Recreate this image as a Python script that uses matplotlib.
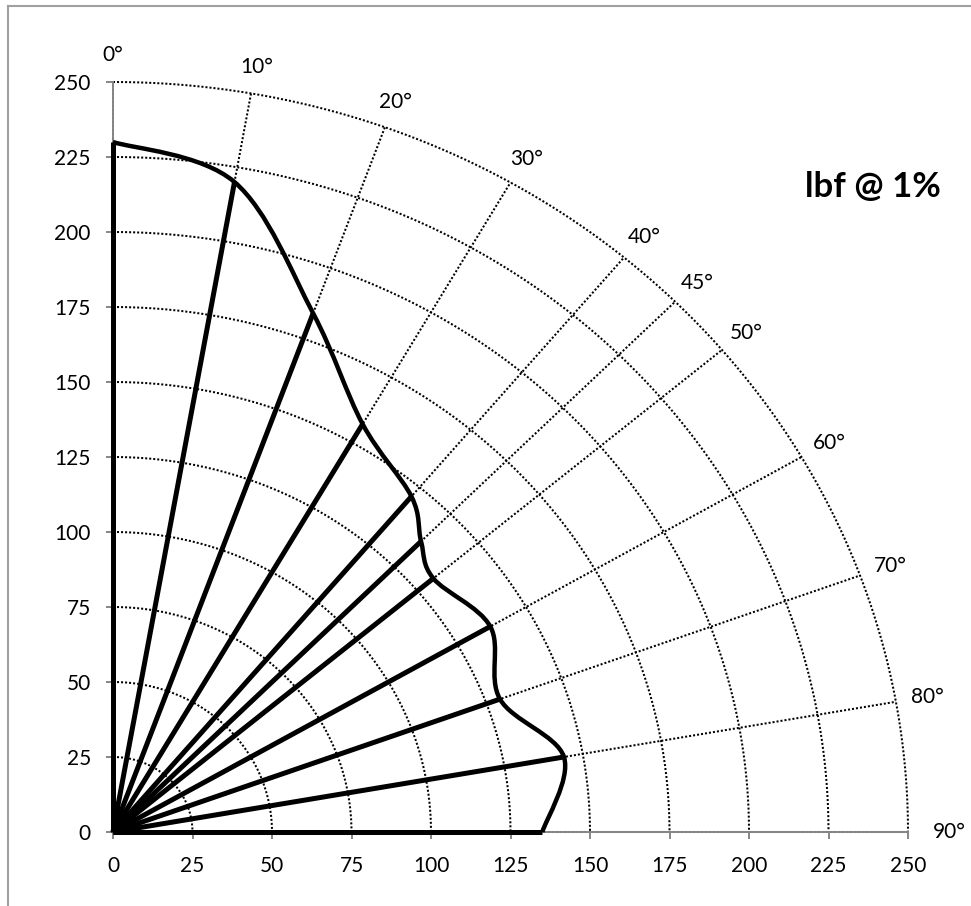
import numpy as np
import matplotlib
matplotlib.use('Agg')
import matplotlib.pyplot as plt
from matplotlib.path import Path
from matplotlib.patches import PathPatch
from matplotlib.lines import Line2D

# pull force (lbf) at 1% vs pull angle measured from vertical
angles = [0, 10, 20, 30, 40, 45, 50, 60, 70, 80, 90]
force = [230, 220, 184, 157, 146, 137, 131.5, 137, 129.5, 144, 135]

grid_angles = [0, 10, 20, 30, 40, 45, 50, 60, 70, 80, 90]
grid_radii = [25, 50, 75, 100, 125, 150, 175, 200, 225, 250]
ticks = [0, 25, 50, 75, 100, 125, 150, 175, 200, 225, 250]
title = 'lbf @ 1%'

plt.rcParams['font.family'] = ['Lato', 'DejaVu Sans']


def smooth_path(x, y):
    # excel style smoothed line: catmull-rom turned into cubic beziers
    pts = np.column_stack([x, y])
    padded = np.vstack([pts[0], pts, pts[-1]])
    verts = [pts[0]]
    codes = [Path.MOVETO]
    for i in range(len(pts) - 1):
        p0, p1, p2, p3 = padded[i], padded[i + 1], padded[i + 2], padded[i + 3]
        verts += [p1 + (p2 - p0) / 6, p2 - (p3 - p1) / 6, p2]
        codes += [Path.CURVE4] * 3
    return Path(verts, codes)


fig = plt.figure(figsize=(9.71, 9.06), dpi=100)
ax = fig.add_axes([113 / 971, 74 / 906, 795 / 971, 750 / 906])
ax.set_xlim(0, 250)
ax.set_ylim(0, 250)

grey = '#868686'
for s in ['top', 'right']:
    ax.spines[s].set_visible(False)
for s in ['left', 'bottom']:
    ax.spines[s].set_color(grey)
    ax.spines[s].set_linewidth(1.4)
ax.set_xticks(ticks)
ax.set_yticks(ticks)
ax.tick_params(axis='both', direction='out', length=5, width=1.4, color=grey,
               labelsize=15, labelcolor='black')
ax.tick_params(axis='y', pad=11)
ax.tick_params(axis='x', pad=12)

# polar grid
th = np.radians(np.linspace(0, 90, 200))
dots = (0, (1, 1))
for r in grid_radii:
    ax.plot(r * np.sin(th), r * np.cos(th), color='black', lw=1.45,
            ls=dots, clip_on=False, zorder=1)
for a in grid_angles:
    t = np.radians(a)
    ax.plot([0, 250 * np.sin(t)], [0, 250 * np.cos(t)], color='black', lw=1.45,
            ls=dots, clip_on=False, zorder=1)
    ax.text(260 * np.sin(t) + (3 if a == 90 else 0), 259 * np.cos(t), '%d°' % a,
            fontsize=15, ha='center', va='center')

t = np.radians(angles)
px = np.array(force) * np.sin(t)
py = np.array(force) * np.cos(t)

# spokes
for xi, yi in zip(px, py):
    ax.plot([0, xi], [0, yi], color='black', lw=3.6, solid_capstyle='butt',
            clip_on=False, zorder=3)

ax.add_patch(PathPatch(smooth_path(px, py), fill=False, edgecolor='black',
                       lw=3.2, clip_on=False, zorder=4))

ax.text(239, 215, title, fontsize=25, fontweight='bold', ha='center', va='center')

# outer frame (only left and top are visible in the crop)
fig.add_artist(Line2D([8 / 971, 8 / 971], [0, 1 - 6 / 906], color='#a0a0a0', lw=1.5))
fig.add_artist(Line2D([8 / 971, 1], [1 - 6 / 906, 1 - 6 / 906], color='#a0a0a0', lw=1.5))

plt.savefig('out.png', dpi=100)
